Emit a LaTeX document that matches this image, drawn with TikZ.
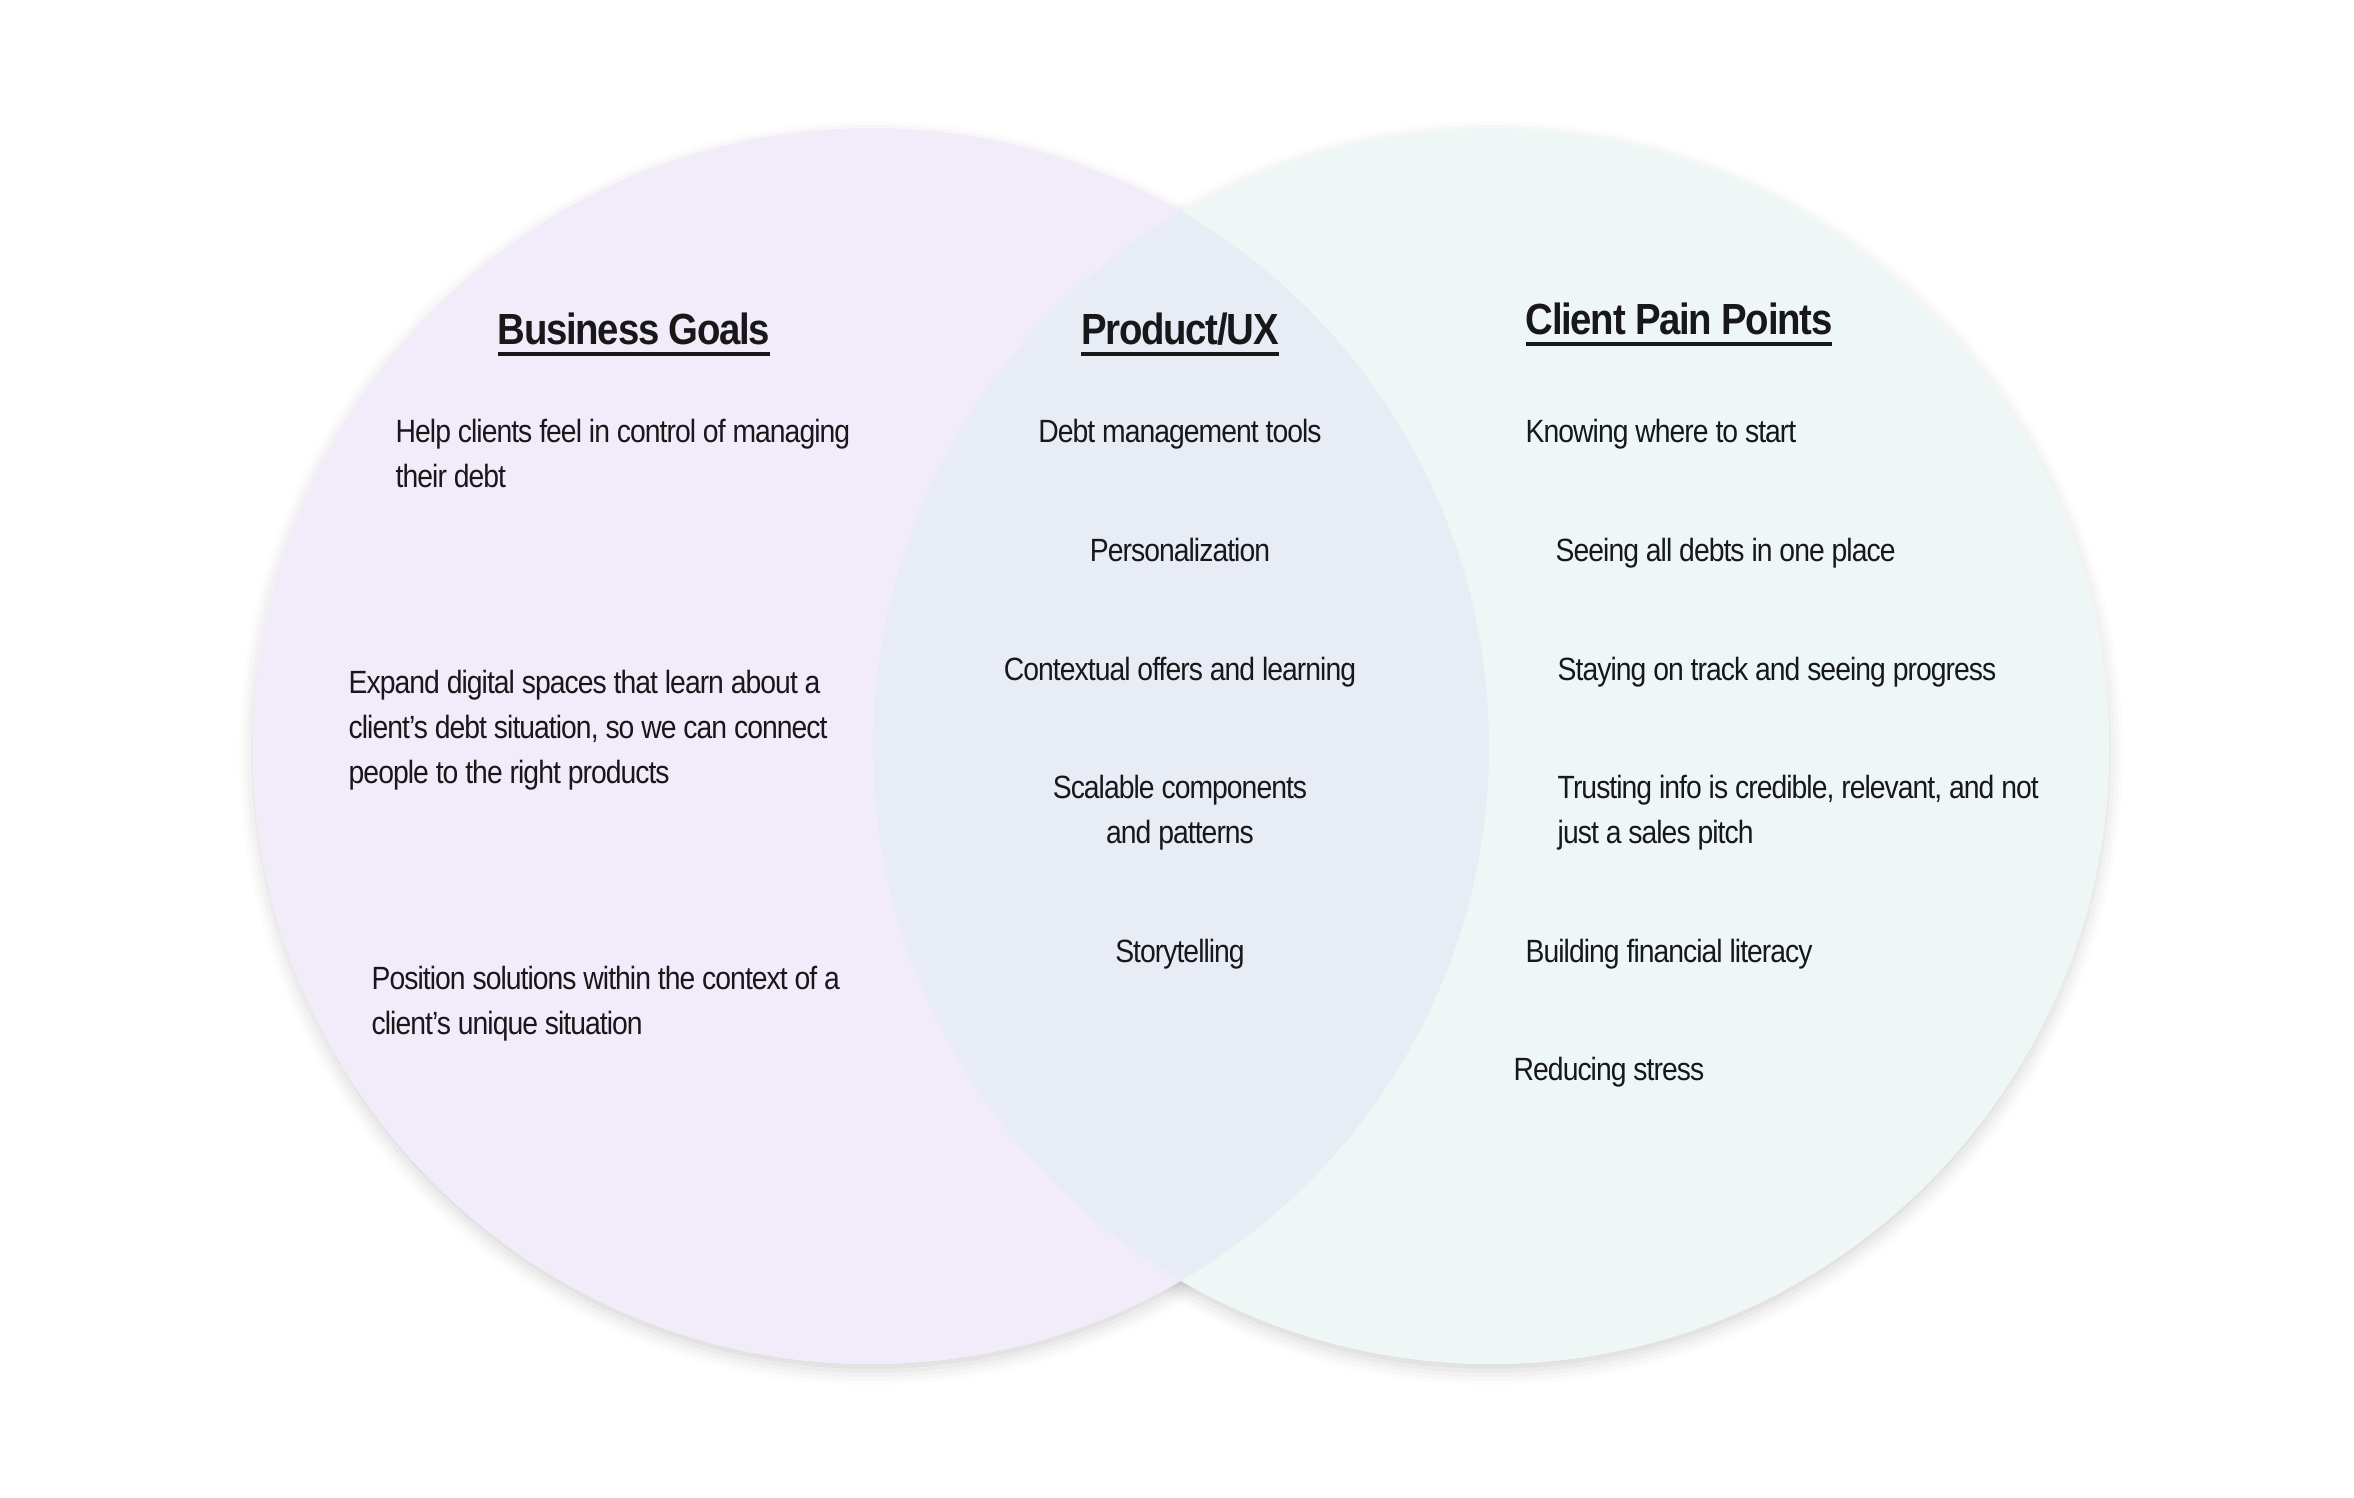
\documentclass[tikz,border=0pt]{standalone}
\usepackage{fontspec}
\setmainfont{Liberation Sans}[FakeStretch=0.88, LetterSpace=-3]
\usepackage{xcolor}
\usepackage{tikz}
\usetikzlibrary{shadows.blur}
\definecolor{goalfill}{RGB}{242,236,250}
\definecolor{painfill}{RGB}{239,247,246}
\definecolor{uxfill}{RGB}{232,236,245}
\definecolor{ink}{RGB}{24,24,26}
\newcommand{\uline}[1]{\setbox0\hbox{#1}\rlap{\rule[-3.1pt]{\wd0}{1.1pt}}\box0}
\tikzset{
  vshadow/.style={blur shadow={shadow xshift=0pt, shadow yshift=-2pt,
                  shadow blur radius=4pt, shadow opacity=16}},
  vhead/.style={anchor=base, inner sep=0pt, text=ink,
                font=\fontsize{12.4}{15}\selectfont\bfseries},
  vitem/.style={anchor=base west, inner sep=0pt, align=left, text=ink,
                font=\fontsize{9.15}{12.8}\selectfont},
  vmid/.style={vitem, anchor=base, align=center},
}

\begin{document}
\begin{tikzpicture}[x=0.01cm, y=-0.01cm]
\useasboundingbox (0,0) rectangle (2354,1498);
% ---- the two sets (shadows first, then fills) ----
\fill[white, vshadow] (871,746) circle (618);
\fill[white, vshadow] (1491,746) circle (618);
\fill[goalfill] (871,746) circle (618);
\fill[painfill] (1491,746) circle (618);
\begin{scope}
  \clip (871,746) circle (618);
  \fill[uxfill] (1491,746) circle (618);
\end{scope}
% ---- headings ----
\node[vhead] (goals) at (634,345) {\uline{Business Goals}};
\node[vhead] (ux) at (1180,345) {\uline{Product/UX}};
\node[vhead, anchor=base west] (pain) at (1525,335) {\uline{Client Pain Points}};
% ---- business goals (base = last line) ----
\node[vitem] (g1) at (395,488) {Help clients feel in control of managing\\ their debt};
\node[vitem] (g2) at (348,784) {Expand digital spaces that learn about a\\
  client’s debt situation, so we can connect\\ people to the right products};
\node[vitem] (g3) at (371,1035) {Position solutions within the context of a\\
  client’s unique situation};
% ---- product/ux ----
\node[vmid] (u1) at (1180,443) {Debt management tools};
\node[vmid] (u2) at (1180,562) {Personalization};
\node[vmid] (u3) at (1180,681) {Contextual offers and learning};
\node[vmid] (u4) at (1180,844) {Scalable components\\ and patterns};
\node[vmid] (u5) at (1180,963) {Storytelling};
% ---- client pain points ----
\node[vitem] (p1) at (1525,443) {Knowing where to start};
\node[vitem] (p2) at (1555,562) {Seeing all debts in one place};
\node[vitem] (p3) at (1557,681) {Staying on track and seeing progress};
\node[vitem] (p4) at (1557,844) {Trusting info is credible, relevant, and not\\ just a sales pitch};
\node[vitem] (p5) at (1525,963) {Building financial literacy};
\node[vitem] (p6) at (1513,1081) {Reducing stress};
\end{tikzpicture}
\end{document}
